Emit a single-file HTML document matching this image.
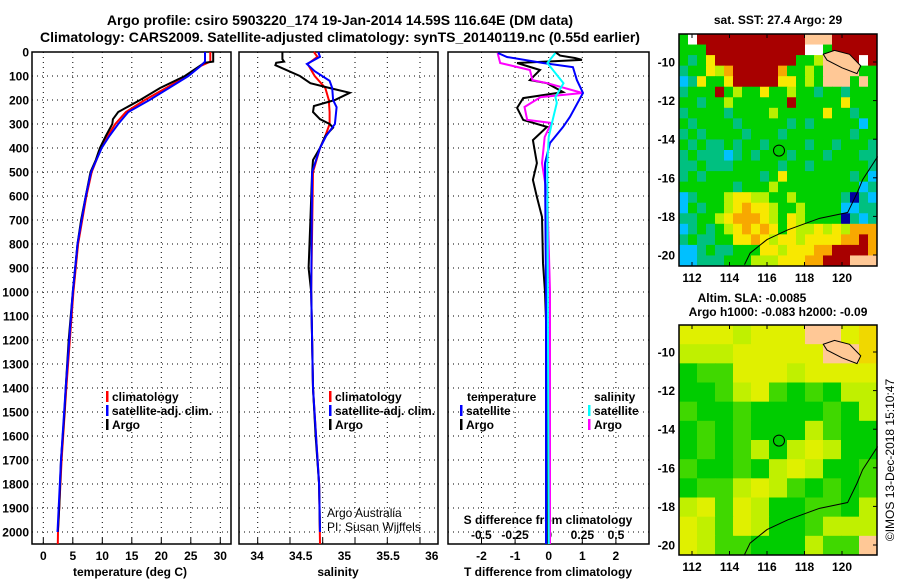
<!DOCTYPE html>
<html><head><meta charset="utf-8">
<style>
html,body{margin:0;padding:0;background:#fff;}
svg{display:block;font-family:"Liberation Sans",Arial,sans-serif;font-weight:bold;}
</style></head>
<body>
<svg id="c" width="900" height="580" viewBox="0 0 900 580" xmlns="http://www.w3.org/2000/svg">
<text x="340" y="25" font-size="14" text-anchor="middle">Argo profile: csiro 5903220_174 19-Jan-2014 14.59S 116.64E (DM data)</text>
<text x="340" y="42" font-size="14" text-anchor="middle">Climatology: CARS2009. Satellite-adjusted climatology: synTS_20140119.nc (0.55d earlier)</text>
<text x="778" y="24" font-size="12" text-anchor="middle">sat. SST: 27.4 Argo: 29</text>
<text x="752" y="302" font-size="12" text-anchor="middle">Altim. SLA: -0.0085</text>
<text x="778" y="316" font-size="12" text-anchor="middle">Argo h1000: -0.083 h2000: -0.09</text>
<text transform="translate(894,460) rotate(-90)" font-size="12" font-weight="normal" text-anchor="middle">©IMOS 13-Dec-2018 15:10:47</text>
<g id="g"></g>
</svg>
<script>
// ---- profile data ----
const tempArgoDepth=[0,40,45,100,150,200,250,280,300,350,400,450,500,600,700,800,900,1000,1200,1400,1500,1700,1900,2000];
const tempArgo=[28.8,28.8,27.3,24,19.8,16.4,12.7,11.8,11.7,10.6,9.6,8.9,8,7.2,6.4,5.8,5.4,5.0,4.3,3.8,3.6,3.0,2.7,2.45];
const tempClimDepth=[0,40,60,100,150,200,250,300,350,400,500,600,800,1000,1400,1700,2000,2050];
const tempClim=[28.3,28.3,26.5,24.3,20.8,17.2,14.0,12.2,10.9,9.8,8.2,7.3,5.9,5.1,3.9,3.1,2.5,2.45];
const tempSatDepth=[0,40,60,100,150,200,250,300,350,400,500,600,800,1000,1400,1700,2000];
const tempSat=[27.4,27.4,26.6,24.6,21.3,18,14.4,12.7,11.2,9.9,8.1,7.2,5.8,5.0,3.8,3.0,2.4];
const salArgoDepth=[0,30,40,45,55,100,130,150,170,200,225,250,280,300,315,350,400,450,500,700,900,1000,1400,1600,1800,2000];
const salArgo=[34.29,34.29,34.31,34.22,34.21,34.49,34.61,34.83,35.06,34.89,34.65,34.64,34.72,34.83,34.87,34.78,34.72,34.64,34.63,34.61,34.59,34.62,34.64,34.67,34.71,34.72];
const salClimDepth=[0,20,50,100,150,200,250,300,350,400,500,1000,1400,1800,2050];
const salClim=[34.65,34.69,34.58,34.66,34.78,34.82,34.83,34.83,34.78,34.72,34.64,34.62,34.64,34.71,34.72];
const salSatDepth=[0,20,50,80,120,150,200,230,300,350,400,500,1000,1400,1800,2000];
const salSat=[34.70,34.72,34.57,34.66,34.83,34.86,34.87,34.91,34.89,34.79,34.72,34.63,34.62,34.64,34.71,34.72];
const dtArgoDepth=[0,15,25,33,46,75,117,130,167,192,233,283,312,367,463,533,604,687,880,1000,1200,1600,2050];
const dtArgo=[0.19,0.34,0.78,0.99,-0.94,-0.26,-0.56,-0.05,0.43,-0.76,-0.94,-0.76,-0.05,-0.47,-0.35,-0.47,-0.35,-0.2,-0.17,-0.11,-0.06,-0.05,-0.04];
const dsArgoDepth=[4,46,75,117,130,171,188,229,283,296,354,463,604,1000,2050];
const dsArgo=[-0.38,-0.36,-0.14,-0.12,-0.01,0.25,-0.06,-0.18,-0.16,0.02,-0.03,-0.05,-0.01,0.01,0.01];
const dtSatDepth=[4,21,46,63,117,171,271,312,379,463,1000,2050];
const dtSat=[-1.51,-1.24,-0.17,0.72,0.84,1.02,0.63,0.43,0.04,-0.11,-0.08,-0.08];
const dsSatDepth=[4,46,88,130,188,212,283,354,463,2050];
const dsSat=[0.05,-0.01,0.05,0.11,0.05,0.06,0.03,0,-0.01,0];
const depthTicks=[0,100,200,300,400,500,600,700,800,900,1000,1100,1200,1300,1400,1500,1600,1700,1800,1900,2000];
const tempTicks=[0,5,10,15,20,25,30];
const salTicks=[34,34.5,35,35.5,36];
const dtTicks=[-2,-1,0,1,2];
const dsTicks=[-0.5,-0.25,0,0.25,0.5];
const lonTicks=[112,114,116,118,120];
const latTicks=[-10,-12,-14,-16,-18,-20];
// ---- map grids (colour class per cell) ----
const sstGrid=[
"3W777777777777LLL77777","33377777777777WW377777","3235777777777334LLL7W7","2335467777763343LLLL33",
"1253357777755343LLL3L3","2333734335334332332333","3323343333337333335333","2333323333433333533233",
"3233332333332323333313","2323333233323333333233","3232232332333323323332","2322212323332333233322",
"2232223333323323333332","2323333332353333333231","3333332333433333333312","1233345544334333332021",
"1323345655433433331122","2233456665435433330212","1232345656535445454666","2322335565455455556676",
"1123223335545556677776","1122233344455566777LLL"];
const slaGrid=["YYYlYYYLLYy","lllYYYYYLLy","GggYYYlYYYY","GGglYgGgGll","gGGgGGGGgGl","GgGgGGGlgGG",
"GgGglGlYlGG","gGGgGlYlGGg","GgglYlgGgGg","lYgYlGGggGl","YlgYlGGglll","YlggGGGlggL"];
const coastLon=[121.9,121.1,120.8,120.3,118.8,117.1,116.0,115.1,114.8];
const coastLat=[-14.9,-16.1,-16.8,-17.8,-18.1,-18.7,-19.2,-19.9,-20.5];
const islandLon=[119.0,119.6,120.4,121.0,120.8,120.0,119.2];
const islandLat=[-9.6,-9.4,-9.6,-10.2,-10.6,-10.3,-9.9];
const argoLon=116.64, argoLat=-14.59;

const NS='http://www.w3.org/2000/svg';
const G=document.getElementById('g');
function mk(tag,attrs,parent){const e=document.createElementNS(NS,tag);for(const k in attrs)e.setAttribute(k,attrs[k]);(parent||G).appendChild(e);return e;}
const yD=d=>52+d*0.24;
const xT=t=>43.3+5.9*t, xS=s=>257+87.5*(s-34), xTd=t=>548.7+33.6*t, xSd=s=>548.7+134.6*s;
const panels=[{x0:32,x1:231,name:'temperature-panel'},{x0:239,x1:438,name:'salinity-panel'},{x0:448,x1:649,name:'difference-panel'}];
const vgrid=[tempTicks.map(xT),[257.7,290,322.7,355,387.3,420],dtTicks.map(xTd)];
panels.forEach((p,i)=>{
  const g=mk('g',{});
  
  
  depthTicks.forEach(d=>{const l=mk('line',{x1:p.x0,x2:p.x1,y1:yD(d),y2:yD(d),stroke:'#000','stroke-width':1,'stroke-dasharray':'1 4'},g);
    });
  vgrid[i].forEach(x=>{const l=mk('line',{x1:x,x2:x,y1:52,y2:544,stroke:'#000','stroke-width':1,'stroke-dasharray':'1 4'},g);
    
    const t=mk('line',{x1:x,x2:x,y1:538,y2:544,stroke:'#000'},g);});
  const r=mk('rect',{x:p.x0,y:52,width:p.x1-p.x0,height:492,fill:'none',stroke:'#000','stroke-width':1.5},g);
  
});
depthTicks.forEach(d=>{const t=mk('text',{x:29,y:yD(d)+4.5,'font-size':12,'text-anchor':'end'});t.textContent=d;
  });
function labels(ticks,fx,y,nm){ticks.forEach(v=>{const t=mk('text',{x:fx(v),y:y,'font-size':12,'text-anchor':'middle'});t.textContent=v;
  });}
labels(tempTicks,xT,560,'temperature-tick-label');
salTicks.forEach((v,i)=>{const t=mk('text',{x:257+i*43.7,y:560,'font-size':12,'text-anchor':'middle'});t.textContent=v;
  });
labels(dtTicks,xTd,560,'t-diff-tick-label');
labels(dsTicks,xSd,539,'s-diff-tick-label');
function txt(s,x,y,nm,anchor,extra){const t=mk('text',Object.assign({x:x,y:y,'font-size':12,'text-anchor':anchor||'start'},extra||{}));t.textContent=s;
  return t;}
txt('temperature (deg C)',130,576,'temperature-axis-title','middle');
txt('salinity',338,576,'salinity-axis-title','middle');
txt('T difference from climatology',548,576,'t-diff-axis-title','middle');
txt('S difference from climatology',548,524,'s-diff-axis-title','middle');
txt('Argo Australia',327,517,'credit-line-1','start',{'font-weight':'normal'});
txt('PI: Susan Wijffels',327,531,'credit-line-2','start',{'font-weight':'normal'});
function line(ds,vs,fx,col,nm){const pts=ds.map((d,i)=>fx(vs[i]).toFixed(1)+','+yD(d).toFixed(1)).join(' ');
  const l=mk('polyline',{points:pts,fill:'none',stroke:col,'stroke-width':2});
  }
line(tempClimDepth,tempClim,xT,'#f00','temperature-climatology-line');
line(tempArgoDepth,tempArgo,xT,'#000','temperature-argo-line');
line(tempSatDepth,tempSat,xT,'#00f','temperature-satellite-line');
line(salClimDepth,salClim,xS,'#f00','salinity-climatology-line');
line(salArgoDepth,salArgo,xS,'#000','salinity-argo-line');
line(salSatDepth,salSat,xS,'#00f','salinity-satellite-line');
line(dtArgoDepth,dtArgo,xTd,'#000','t-diff-argo-line');
line(dsArgoDepth,dsArgo,xSd,'#f0f','s-diff-argo-line');
line(dtSatDepth,dtSat,xTd,'#00f','t-diff-satellite-line');
line(dsSatDepth,dsSat,xSd,'#0ff','s-diff-satellite-line');
function leg(x,y,col,s,nm){const r=mk('rect',{x:x,y:y-10,width:2.5,height:11,fill:col});
  if(s)txt(s,x+6,y,nm);}
[[106,'climatology','#f00'],[106,'satellite-adj. clim.','#00f'],[106,'Argo','#000']].forEach((e,i)=>leg(e[0],401+i*14,e[2],e[1],'legend-entry'));
[[329,'climatology','#f00'],[329,'satellite-adj. clim.','#00f'],[329,'Argo','#000']].forEach((e,i)=>leg(e[0],401+i*14,e[2],e[1],'legend-entry'));
txt('temperature',467,401,'legend-heading');txt('salinity',594,401,'legend-heading');
leg(460,415,'#00f','satellite','legend-entry');leg(460,429,'#000','Argo','legend-entry');
leg(588,415,'#0ff','satellite','legend-entry');leg(588,429,'#f0f','Argo','legend-entry');
// ---- maps ----
const sstCol={'0':'#0000a0','1':'#00c0ff','2':'#00c080','3':'#00d000','4':'#b8f000','5':'#f8e800','6':'#f8a800','7':'#a80000','L':'#ffc896','W':'#fff'};
const slaCol={'y':'#f0d800','Y':'#e0f000','l':'#c0f000','g':'#40d800','G':'#00cc00','D':'#00b830','L':'#ffc896'};
function drawMap(grid,cols,top,bot,nm,latFn){
  const x0=679,x1=877,nr=grid.length,nc=grid[0].length,cw=(x1-x0)/nc,ch=(bot-top)/nr;
  const g=mk('g',{});
  grid.forEach((row,r)=>{for(let c=0;c<nc;c++){const cell=mk('rect',{x:(x0+c*cw).toFixed(2),y:(top+r*ch).toFixed(2),width:(cw+0.5).toFixed(2),height:(ch+0.5).toFixed(2),fill:cols[row[c]]},g);
    }});
  const lonX=lo=>692+(lo-112)*18.75;
  const cl=mk('polyline',{points:coastLon.map((lo,i)=>lonX(lo)+','+latFn(coastLat[i])).join(' '),fill:'none',stroke:'#000','stroke-width':1},g);
  
  const isl=mk('polygon',{points:islandLon.map((lo,i)=>lonX(lo)+','+latFn(islandLat[i])).join(' '),fill:'#ffc896',stroke:'#000','stroke-width':1},g);
  
  const ci=mk('circle',{cx:lonX(argoLon),cy:latFn(argoLat),r:5.5,fill:'none',stroke:'#000','stroke-width':1},g);
  
  const fr=mk('rect',{x:x0,y:top,width:x1-x0,height:bot-top,fill:'none',stroke:'#000','stroke-width':1.5},g);
  
  lonTicks.forEach(lo=>{mk('line',{x1:lonX(lo),x2:lonX(lo),y1:top,y2:top+4,stroke:'#000'},g);mk('line',{x1:lonX(lo),x2:lonX(lo),y1:bot-4,y2:bot,stroke:'#000'},g);
    txt(lo,lonX(lo),bot+16,'longitude-tick-label','middle');});
  latTicks.forEach(la=>{mk('line',{x1:x1-4,x2:x1,y1:latFn(la),y2:latFn(la),stroke:'#000'},g);
    txt(la,675,latFn(la)+4.5,'latitude-tick-label','end');});
}
drawMap(sstGrid,sstCol,34,266,'sst-map',la=>62+(-10-la)*19.3);
drawMap(slaGrid,slaCol,325,555,'sla-map',la=>352+(-10-la)*19.3);
</script>
</body></html>
